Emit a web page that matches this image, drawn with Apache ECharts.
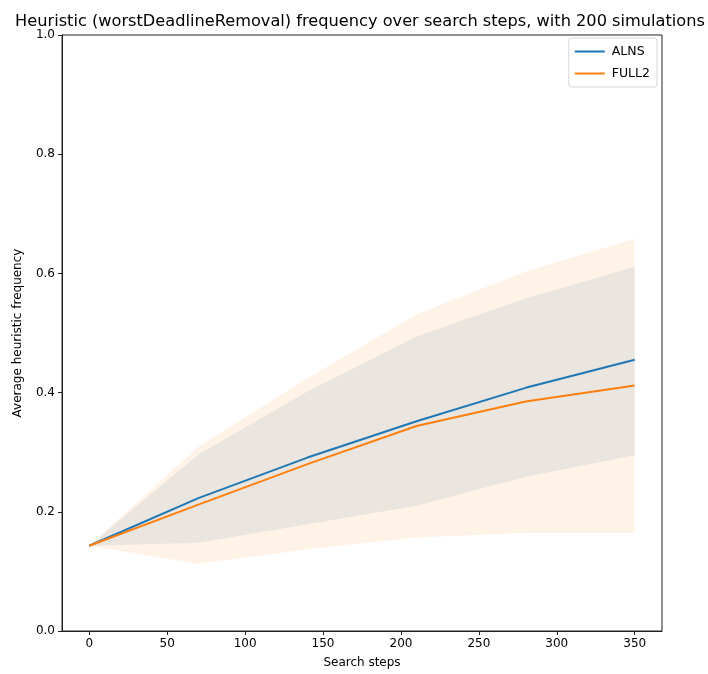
<!DOCTYPE html>
<html>
<head>
<meta charset="utf-8">
<script src="https://cdn.jsdelivr.net/npm/echarts@6/dist/echarts.min.js"></script>
<style>
  html, body { margin: 0; padding: 0; background: #fff; }
  #chart { width: 708px; height: 674px; }
</style>
</head>
<body>
<div id="chart"></div>
<script>
// Search steps at which heuristic frequency was sampled
const steps = [0, 70, 140, 210, 280, 350];

// Mean frequency per method
const alnsMean  = [0.143, 0.223, 0.291, 0.352, 0.408, 0.455];
const full2Mean = [0.143, 0.212, 0.280, 0.344, 0.385, 0.412];

// Spread bands (lower / upper) per method
const alnsLower  = [0.143, 0.148, 0.179, 0.210, 0.259, 0.295];
const alnsUpper  = [0.143, 0.296, 0.402, 0.494, 0.558, 0.611];
const full2Lower = [0.143, 0.113, 0.137, 0.157, 0.165, 0.165];
const full2Upper = [0.143, 0.309, 0.424, 0.531, 0.603, 0.658];

// Axis tick positions
const xTicks = [0, 50, 100, 150, 200, 250, 300, 350];

const BLUE = '#1f77b4';
const ORANGE = '#ff7f0e';
const FONT = 'DejaVu Sans';

const pairs = (ys) => steps.map((x, i) => [x, ys[i]]);

// Filled band between lower and upper curves, drawn as one polygon
function band(name, lo, hi, color, z) {
  return {
    name: name, type: 'custom', silent: true, z: z,
    data: steps.map((x, i) => [x, lo[i], hi[i]]),
    encode: { x: 0, y: [1, 2] },
    renderItem: function (params, api) {
      if (params.dataIndex !== 0) return null;
      const top = steps.map((x, i) => api.coord([x, hi[i]]));
      const bottom = steps.map((x, i) => api.coord([x, lo[i]])).reverse();
      return {
        type: 'polygon',
        shape: { points: top.concat(bottom) },
        style: { fill: color, opacity: 0.1 }
      };
    }
  };
}

const chart = echarts.init(document.getElementById('chart'), null, { renderer: 'canvas' });

chart.setOption({
  animation: false,
  backgroundColor: '#fff',
  title: {
    text: 'Heuristic (worstDeadlineRemoval) frequency over search steps, with 200 simulations',
    left: 355, top: 9, textAlign: 'center',
    textStyle: { fontFamily: FONT, fontSize: 16.2, fontWeight: 'normal', color: '#000' }
  },
  legend: {
    data: ['ALNS', 'FULL2'],
    orient: 'vertical',
    right: 51, top: 38,
    itemWidth: 30, itemHeight: 2, itemGap: 9,
    icon: 'rect',
    backgroundColor: '#fff',
    borderColor: '#d6d6d6', borderWidth: 1, borderRadius: 3,
    padding: [7, 7, 7, 6],
    textStyle: { fontFamily: FONT, fontSize: 12.5, color: '#000', padding: [0, 0, 0, 2] }
  },
  grid: {
    left: 62, right: 46, top: 35, bottom: 43,
    show: true, borderColor: '#222', borderWidth: 1, backgroundColor: 'transparent'
  },
  xAxis: {
    type: 'value', min: -17.5, max: 367.5,
    name: 'Search steps', nameLocation: 'middle', nameGap: 26,
    nameTextStyle: { fontFamily: FONT, fontSize: 12, color: '#000' },
    axisLine: { show: true, onZero: false, lineStyle: { color: '#222' } },
    axisTick: { show: true, length: 4, customValues: xTicks, lineStyle: { color: '#222' } },
    axisLabel: { customValues: xTicks, fontFamily: FONT, fontSize: 12, color: '#000', margin: 7 },
    splitLine: { show: false }
  },
  yAxis: {
    type: 'value', min: 0, max: 1, interval: 0.2,
    name: 'Average heuristic frequency', nameLocation: 'middle', nameGap: 38,
    nameTextStyle: { fontFamily: FONT, fontSize: 12, color: '#000' },
    axisLine: { show: true, onZero: false, lineStyle: { color: '#222' } },
    axisTick: { show: true, length: 4, lineStyle: { color: '#222' } },
    axisLabel: {
      fontFamily: FONT, fontSize: 12, color: '#000', margin: 7,
      formatter: (v) => v.toFixed(1)
    },
    splitLine: { show: false }
  },
  series: [
    band('ALNS band', alnsLower, alnsUpper, BLUE, 1),
    band('FULL2 band', full2Lower, full2Upper, ORANGE, 2),
    {
      name: 'ALNS', type: 'line', data: pairs(alnsMean), symbol: 'none',
      color: BLUE, lineStyle: { color: BLUE, width: 2 }, z: 3
    },
    {
      name: 'FULL2', type: 'line', data: pairs(full2Mean), symbol: 'none',
      color: ORANGE, lineStyle: { color: ORANGE, width: 2 }, z: 4
    }
  ]
});
</script>
</body>
</html>
